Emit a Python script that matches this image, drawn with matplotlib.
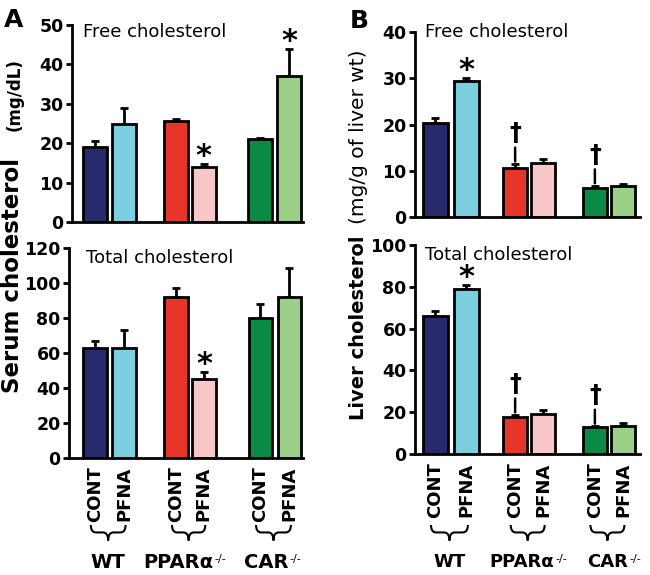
import matplotlib
matplotlib.use("Agg")
import matplotlib.pyplot as plt
import matplotlib.transforms as mtransforms
from matplotlib.path import Path
from matplotlib.patches import PathPatch

plt.rcParams['font.family'] = ['DejaVu Sans']

# --- data ---
treatments = ["CONT", "PFNA", "CONT", "PFNA", "CONT", "PFNA"]
groups = ["WT", "PPARα", "CAR"]
group_sup = ["", "-/-", "-/-"]
bar_colors = ["#272a6b", "#7ccfe0", "#e8352a", "#f8c8c8", "#0a8a45", "#9ccf88"]

serum_free = [19.0, 25.0, 25.7, 14.0, 21.0, 37.0]
serum_free_err = [1.5, 4.0, 0.4, 0.6, 0.2, 7.0]
serum_total = [63.0, 63.0, 92.0, 45.0, 80.0, 92.0]
serum_total_err = [4.0, 10.0, 5.0, 4.0, 8.0, 16.5]
liver_free = [20.4, 29.4, 10.5, 11.7, 6.3, 6.8]
liver_free_err = [1.0, 0.7, 0.9, 0.8, 0.4, 0.4]
liver_total = [66.2, 78.8, 17.5, 19.3, 12.9, 13.2]
liver_total_err = [2.0, 2.1, 1.1, 1.9, 0.3, 1.6]

# which bars carry a * or a dagger
serum_free_star = [3, 5]
serum_total_star = [3]
liver_free_star = [1]
liver_total_star = [1]
liver_dagger = [2, 4]

pos_a = [0, 1, 2.8, 3.75, 5.7, 6.7]
pos_b = [0, 1.05, 2.7, 3.65, 5.4, 6.35]


def draw_panel(ax, pos, vals, errs, ymax, ystep, title, stars, daggers, xlim):
    ax.bar(pos, vals, width=0.82, color=bar_colors, edgecolor="black",
           linewidth=2, zorder=2)
    ax.errorbar(pos, vals, yerr=[[0] * len(errs), errs], fmt="none",
                ecolor="black", elinewidth=2, capsize=3, capthick=2, zorder=1)
    ax.set_ylim(0, ymax)
    ax.set_xlim(*xlim)
    ax.set_yticks(range(0, ymax + 1, ystep))
    for s in ["top", "right"]:
        ax.spines[s].set_visible(False)
    for s in ["left", "bottom"]:
        ax.spines[s].set_linewidth(2)
    ax.tick_params(axis="y", length=4, width=2, pad=2, labelsize=12.5)
    for lab in ax.get_yticklabels():
        lab.set_fontweight("bold")
    ax.text(title[1], title[2], title[0], transform=ax.transAxes,
            fontsize=13, va="center", ha="left")
    for i in stars:
        ax.annotate("*", xy=(pos[i], vals[i] + errs[i]), xytext=(0, -5),
                    textcoords="offset points", ha="center", va="bottom",
                    fontsize=22, fontweight="bold")
    for i in daggers:
        ax.annotate("†", xy=(pos[i], vals[i] + errs[i]), xytext=(0, 14),
                    textcoords="offset points", ha="center", va="bottom",
                    fontsize=17, fontweight="bold",
                    arrowprops=dict(arrowstyle="-", lw=1.8, shrinkA=0,
                                    shrinkB=2, color="black"))


def draw_xlabels(ax, pos, fig, gsize, shifts):
    ax.set_xticks(pos)
    ax.set_xticklabels(treatments, rotation=90, fontsize=13,
                       fontweight="bold")
    ax.tick_params(axis="x", length=0, pad=6)
    tr = mtransforms.blended_transform_factory(ax.transData, fig.transFigure)
    ytop, ymid, ybot = 0.087, 0.074, 0.060
    for g in range(3):
        x0 = pos[2 * g] - 0.15
        x1 = pos[2 * g + 1] + 0.05
        xm = (x0 + x1) / 2
        r = 0.18
        verts = [(x0, ytop), (x0, ymid), (x0 + r, ymid),
                 (xm - r, ymid), (xm, ymid), (xm, ybot),
                 (xm, ymid), (xm + r, ymid),
                 (x1 - r, ymid), (x1, ymid), (x1, ytop)]
        codes = [Path.MOVETO, Path.CURVE3, Path.CURVE3,
                 Path.LINETO, Path.CURVE3, Path.CURVE3,
                 Path.CURVE3, Path.CURVE3,
                 Path.LINETO, Path.CURVE3, Path.CURVE3]
        patch = PathPatch(Path(verts, codes), transform=tr, fill=False,
                          lw=1.5, edgecolor="black", clip_on=False)
        ax.add_patch(patch)
        t = ax.text(xm + shifts[g], 0.022, groups[g], transform=tr,
                    ha="center", va="center", fontsize=gsize,
                    fontweight="bold")
        if group_sup[g]:
            ax.annotate(group_sup[g], xy=(1.0, 0.95), xycoords=t,
                        xytext=(1, 0), textcoords="offset points",
                        ha="left", va="top", fontsize=8)


fig = plt.figure(figsize=(6.5, 5.75), dpi=100)

ax_a1 = fig.add_axes([0.1108, 0.6139, 0.3554, 0.3426])
ax_a2 = fig.add_axes([0.1062, 0.2035, 0.3600, 0.3652])
ax_b1 = fig.add_axes([0.6385, 0.6226, 0.3462, 0.3217])
ax_b2 = fig.add_axes([0.6385, 0.2104, 0.3462, 0.3635])

draw_panel(ax_a1, pos_a, serum_free, serum_free_err, 50, 10,
           ("Free cholesterol", 0.048, 0.964), serum_free_star, [],
           (-0.79, 7.17))
draw_panel(ax_a2, pos_a, serum_total, serum_total_err, 120, 20,
           ("Total cholesterol", 0.073, 0.952), serum_total_star, [],
           (-0.9, 7.17))
draw_panel(ax_b1, pos_b, liver_free, liver_free_err, 40, 10,
           ("Free cholesterol", 0.044, 1.0), liver_free_star, liver_dagger,
           (-0.69, 6.93))
draw_panel(ax_b2, pos_b, liver_total, liver_total_err, 100, 20,
           ("Total cholesterol", 0.044, 0.952), liver_total_star, liver_dagger,
           (-0.69, 6.93))

for ax in (ax_a1, ax_b1):
    ax.set_xticks([])
draw_xlabels(ax_a2, pos_a, fig, 14, [0.0, -0.35, -0.25])
draw_xlabels(ax_b2, pos_b, fig, 13, [0.0, -0.2, 0.0])

# y labels
fig.text(13 / 650, 1 - 393 / 575, "Serum cholesterol", rotation=90,
         ha="center", va="bottom", fontsize=16.5, fontweight="bold")
fig.text(15 / 650, 1 - 58 / 575, "(mg/dL)", rotation=90,
         ha="center", va="top", fontsize=12, fontweight="bold")
fig.text(358 / 650, 1 - 420 / 575, "Liver cholesterol", rotation=90,
         ha="center", va="bottom", fontsize=14, fontweight="bold")
fig.text(359 / 650, 1 - 50 / 575, "(mg/g of liver wt)", rotation=90,
         ha="center", va="top", fontsize=14.5)

fig.text(4 / 650, 1 - 27 / 575, "A", fontsize=18, fontweight="bold")
fig.text(350 / 650, 1 - 28 / 575, "B", fontsize=18, fontweight="bold")

fig.savefig("out.png", dpi=100)
